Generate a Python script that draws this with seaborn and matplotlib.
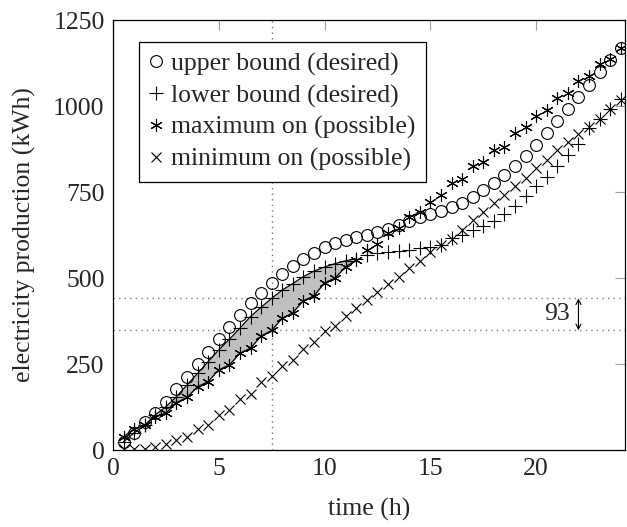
import numpy as np
import pandas as pd
import matplotlib
matplotlib.use("Agg")
import matplotlib.pyplot as plt
import seaborn as sns

# time grid (half hours) and the four series (kWh)
hours = np.arange(0.5, 24.01, 0.5)
upper_bound = [24, 50, 80, 109, 141, 176, 213, 249, 286, 323,
               359, 392, 426, 457, 486, 512, 535, 556, 573, 589,
               602, 611, 619, 626, 634, 642, 654, 666, 676, 686,
               695, 706, 718, 736, 755, 776, 800, 827, 856, 887,
               922, 957, 990, 1025, 1061, 1100, 1134, 1170]
lower_bound = [24, 50, 72, 102, 126, 155, 189, 223, 257, 291,
               322, 354, 388, 415, 441, 465, 484, 504, 520, 532,
               542, 550, 556, 567, 572, 576, 579, 582, 586, 590,
               596, 616, 626, 640, 650, 666, 685, 710, 737, 767,
               795, 827, 858, 891, 935, 963, 990, 1020]
maximum_on = [39, 61, 73, 97, 107, 138, 153, 184, 199, 233,
              247, 281, 296, 331, 348, 383, 399, 434, 448, 486,
              500, 533, 552, 581, 599, 630, 644, 676, 692, 722,
              741, 776, 788, 825, 836, 872, 882, 922, 938, 972,
              988, 1022, 1038, 1072, 1088, 1122, 1136, 1170]
minimum_on = [2, 2, 3, 10, 17, 29, 39, 60, 73, 101,
              115, 148, 164, 197, 214, 245, 263, 295, 314, 345,
              360, 390, 413, 437, 458, 484, 503, 528, 550, 575,
              596, 613, 640, 670, 691, 717, 740, 768, 792, 820,
              843, 871, 895, 920, 938, 963, 990, 1017]

mark_time = 7.5
gap_top = 441
gap_bottom = 348
gap_label = "93"

df = pd.DataFrame({"hours": hours, "upper": upper_bound, "lower": lower_bound,
                   "max_on": maximum_on, "min_on": minimum_on})

sns.set_style("white")
plt.rcParams["font.family"] = ["Liberation Serif", "DejaVu Serif"]
FS = 18.5

fig = plt.figure(figsize=(6.27, 5.27), dpi=100)
ax = fig.add_axes([0.1802, 0.1461, 0.8166, 0.8159])

# shaded gap where the maximum is below the desired lower bound
ax.fill_between(df["hours"], df["max_on"], df["lower"], where=df["max_on"] < df["lower"],
                interpolate=True, color="#c0c0c0", lw=0, zorder=1)
part = df[df["hours"] <= 11.5]
sns.lineplot(data=part, x="hours", y="lower", color="black", lw=0.9, ax=ax, zorder=2)
sns.lineplot(data=part, x="hours", y="max_on", color="black", lw=0.9, ax=ax, zorder=2)

# dotted helper lines
dot = dict(color="#777777", ls=(0, (1, 3)), lw=1, zorder=0.5)
ax.axvline(mark_time, **dot)
ax.axhline(gap_top, **dot)
ax.axhline(gap_bottom, **dot)

sns.lineplot(data=df, x="hours", y="upper", marker="o", linestyle="", ms=8.5,
             mfc="none", mec="black", mew=0.8, color="black",
             label="upper bound (desired)", ax=ax, zorder=3)
sns.lineplot(data=df, x="hours", y="lower", marker="+", linestyle="", ms=9.5,
             mec="black", mew=0.8, color="black", label="lower bound (desired)", ax=ax, zorder=3)
sns.lineplot(data=df, x="hours", y="max_on", marker=(6, 2, 0), linestyle="", ms=9,
             mec="black", mew=0.8, color="black", label="maximum on (possible)", ax=ax, zorder=3)
sns.lineplot(data=df, x="hours", y="min_on", marker="x", linestyle="", ms=7,
             mec="black", mew=0.8, color="black", label="minimum on (possible)", ax=ax, zorder=3)

ax.annotate("", xy=(22, gap_top), xytext=(22, gap_bottom),
            arrowprops=dict(arrowstyle="<->", lw=0.8, color="black",
                            shrinkA=0, shrinkB=0, mutation_scale=9))
ax.text(21.6, (gap_top + gap_bottom) / 2, gap_label, ha="right", va="center", fontsize=FS)

ax.set_xlim(0, 24.2)
ax.set_ylim(0, 1250)
ax.set_xticks([0, 5, 10, 15, 20])
ax.set_yticks([0, 250, 500, 750, 1000, 1250])
ax.tick_params(direction="in", length=7, width=0.8, color="#a0a0a0",
               top=True, right=True, labelsize=FS, pad=6)
for s in ax.spines.values():
    s.set_color("black")
    s.set_linewidth(0.9)
ax.set_xlabel("time (h)", fontsize=FS, labelpad=13)
ax.set_ylabel("electricity production (kWh)", fontsize=FS, labelpad=12)

leg = ax.legend(loc="upper left", bbox_to_anchor=(0.051, 0.949), borderaxespad=0,
                frameon=True, fancybox=False, edgecolor="black", framealpha=1,
                fontsize=FS, handlelength=0.5, handletextpad=0.35,
                labelspacing=0.33, borderpad=0.4)
leg.get_frame().set_linewidth(0.9)

fig.savefig("out.png", dpi=100)
